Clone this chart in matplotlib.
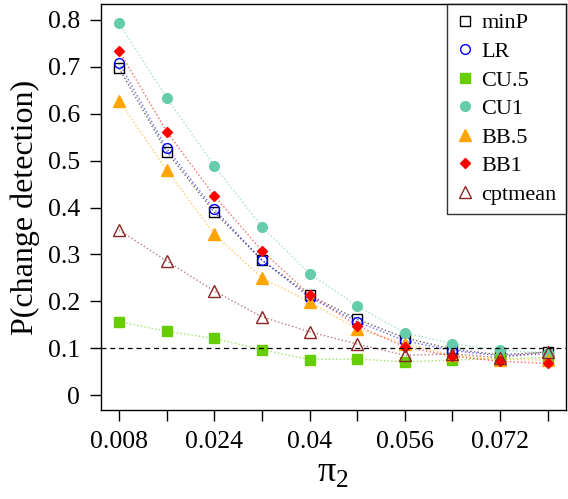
import numpy as np
import matplotlib
matplotlib.use("Agg")
import matplotlib.pyplot as plt

plt.rcParams['font.family'] = ['Liberation Serif', 'DejaVu Serif']
plt.rcParams['mathtext.fontset'] = 'custom'
plt.rcParams['mathtext.rm'] = 'Liberation Serif'

# proportion pi_2
pi2 = [0.008, 0.016, 0.024, 0.032, 0.04, 0.048, 0.056, 0.064, 0.072, 0.08]
xtick_labels = ['0.008', '', '0.024', '', '0.04', '', '0.056', '', '0.072', '']
ytick_vals = [0, 0.1, 0.2, 0.3, 0.4, 0.5, 0.6, 0.7, 0.8]
ytick_labels = ['0', '0.1', '0.2', '0.3', '0.4', '0.5', '0.6', '0.7', '0.8']

minP = [0.697, 0.519, 0.390, 0.288, 0.213, 0.162, 0.122, 0.098, 0.086, 0.092]
LR = [0.708, 0.526, 0.396, 0.288, 0.208, 0.157, 0.116, 0.095, 0.084, 0.088]
CU5 = [0.157, 0.136, 0.121, 0.097, 0.076, 0.077, 0.071, 0.075, 0.078, 0.080]
CU1 = [0.793, 0.634, 0.489, 0.359, 0.259, 0.190, 0.133, 0.110, 0.096, 0.090]
BB5 = [0.628, 0.480, 0.343, 0.250, 0.199, 0.141, 0.110, 0.085, 0.076, 0.075]
BB1 = [0.734, 0.562, 0.425, 0.308, 0.214, 0.148, 0.103, 0.083, 0.072, 0.068]
cptmean = [0.352, 0.286, 0.222, 0.167, 0.135, 0.109, 0.085, 0.088, 0.080, 0.093]

# name, values, colour, marker, filled, size
series = [
    ('minP', minP, 'black', 's', False, 6.5),
    ('LR', LR, 'blue', 'o', False, 7),
    ('CU.5', CU5, '#66CD00', 's', True, 6.5),
    ('CU1', CU1, '#66CDAA', 'o', True, 7),
    ('BB.5', BB5, '#FFA500', '^', True, 8),
    ('BB1', BB1, 'red', 'D', True, 4.8),
    ('cptmean', cptmean, '#8B2323', '^', False, 8.5),
]

fig = plt.figure(figsize=(5.68, 4.99), dpi=100)
ax = fig.add_axes([0.178, 0.178, 0.818, 0.814])

for name, vals, col, mk, filled, ms in series:
    ax.plot(pi2, vals, linestyle=':', color=col, lw=1, alpha=0.6)
    ax.plot(pi2, vals, linestyle='none', marker=mk, ms=ms,
            markerfacecolor=col if filled else 'none',
            markeredgecolor=col, markeredgewidth=1, label=name)

# nominal level
ax.axhline(0.1, color='black', linestyle=(0, (4, 3)), lw=0.9)

ax.set_xlim(0.00498, 0.08302)
ax.set_ylim(-0.032, 0.834)
ax.set_xticks(pi2)
ax.set_xticklabels(xtick_labels)
ax.set_yticks(ytick_vals)
ax.set_yticklabels(ytick_labels)
ax.tick_params(direction='out', length=8, width=1, labelsize=18.5, pad=7)
for s in ax.spines.values():
    s.set_linewidth(1)

ax.set_ylabel('P(change detection)', fontsize=23, labelpad=6)
ax.set_xlabel('π$_{\\mathregular{2}}$', fontsize=26, labelpad=2)

leg = ax.legend(loc='upper right', fontsize=16, frameon=True, fancybox=False,
                edgecolor='black', handletextpad=0.35, borderpad=0.4,
                labelspacing=0.36, borderaxespad=0, handlelength=0.8)
leg.get_frame().set_linewidth(1)

fig.savefig('out.png', dpi=100)
